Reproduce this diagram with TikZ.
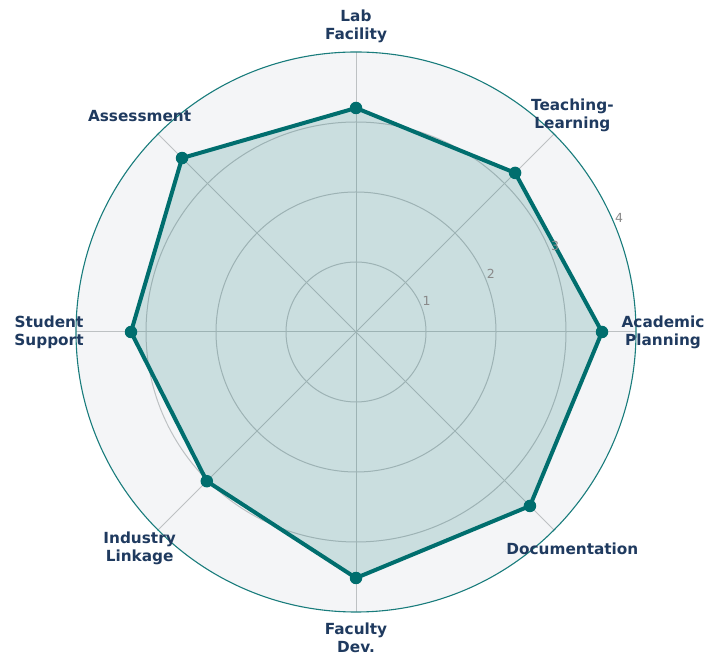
\documentclass[tikz,border=0pt]{standalone}
\usepackage{fontspec}
\setmainfont{DejaVu Sans}
\usetikzlibrary{calc}
\definecolor{tealc}{HTML}{006E6E}
\definecolor{bgc}{HTML}{F4F5F7}
\definecolor{gridc}{HTML}{BDC1C3}
\definecolor{labc}{HTML}{1F3A5F}
\definecolor{tickc}{HTML}{8A8A8A}
\begin{document}
\begin{tikzpicture}[x=1pt,y=1pt,
  axlabel/.style={font=\fontsize{15.3}{18}\selectfont\bfseries, text=labc, align=center, inner sep=0pt},
  ticklab/.style={font=\fontsize{12.5}{14}\selectfont, text=tickc, inner sep=0pt},
  gridline/.style={draw=gridc, line width=1pt},
  dot/.style={circle, fill=tealc, minimum size=12.5pt, inner sep=0pt}]
\useasboundingbox (0,0) rectangle (706,658);
\coordinate (c) at (356,326);
\fill[bgc] (c) circle (280);
% grid
\foreach \a in {0,45,...,315} {\draw[gridline] (c) -- ++(\a:280);}
\foreach \r in {70,140,210} {\draw[gridline] (c) circle (\r);}
% data
\coordinate (p1) at ($(c)+(0:246)$);
\coordinate (p2) at ($(c)+(45:225)$);
\coordinate (p3) at ($(c)+(90:224)$);
\coordinate (p4) at ($(c)+(135:246)$);
\coordinate (p5) at ($(c)+(180:225)$);
\coordinate (p6) at ($(c)+(225:211)$);
\coordinate (p7) at ($(c)+(270:246)$);
\coordinate (p8) at ($(c)+(315:246)$);
\fill[tealc, opacity=0.17] (p1) -- (p2) -- (p3) -- (p4) -- (p5) -- (p6) -- (p7) -- (p8) -- cycle;
\draw[tealc, line width=4pt, line join=round] (p1) -- (p2) -- (p3) -- (p4) -- (p5) -- (p6) -- (p7) -- (p8) -- cycle;
\foreach \i in {1,...,8} {\node[dot] (d\i) at (p\i) {};}
\draw[tealc!90!white, line width=1.1pt] (c) circle (280);
% ticks
\foreach \v in {1,2,3,4} {\node[ticklab] (t\v) at ($(c)+(23.5:{70*\v+7})$) {\v};}
% labels
\node[axlabel] (l1) at ($(c)+(0:307)$) {Academic\\Planning};
\node[axlabel] (l2) at ($(c)+(45:306)$) {Teaching-\\Learning};
\node[axlabel] (l3) at ($(c)+(90:306)$) {Lab\\Facility};
\node[axlabel] (l4) at ($(c)+(135:306)$) {Assessment};
\node[axlabel] (l5) at ($(c)+(180:307)$) {Student\\Support};
\node[axlabel] (l6) at ($(c)+(225:306)$) {Industry\\Linkage};
\node[axlabel] (l7) at ($(c)+(270:306)$) {Faculty\\Dev.};
\node[axlabel] (l8) at ($(c)+(315:306)$) {Documentation};
\end{tikzpicture}
\end{document}
